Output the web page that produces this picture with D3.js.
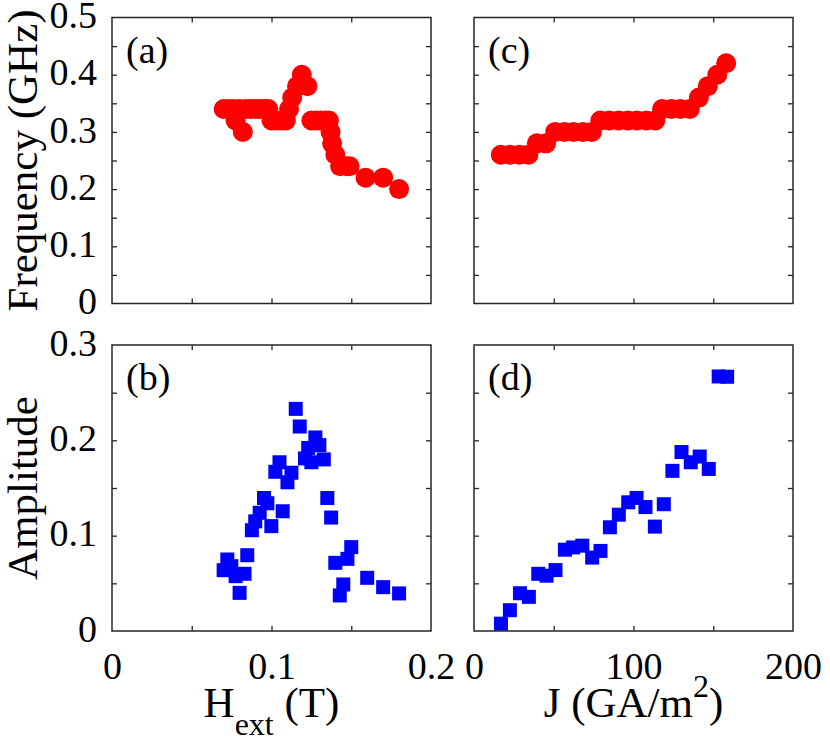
<!DOCTYPE html>
<html>
<head>
<meta charset="utf-8">
<script src="https://cdn.jsdelivr.net/npm/d3@7"></script>
<style>
  body { margin: 0; background: #fff; }
</style>
</head>
<body>
<div id="chart"></div>
<script>
// panel (a): frequency vs external field
var fieldA = [0.070, 0.073, 0.076, 0.0775, 0.082, 0.080, 0.084, 0.087, 0.090, 0.093, 0.096, 0.098,
              0.100, 0.103, 0.106, 0.109, 0.111, 0.113, 0.116, 0.119, 0.1225, 0.125, 0.128, 0.131,
              0.134, 0.136, 0.137, 0.138, 0.140, 0.143, 0.147, 0.149, 0.159, 0.170, 0.180]
var freqA = [0.34, 0.34, 0.34, 0.32, 0.30, 0.34, 0.34, 0.34, 0.34, 0.34, 0.34, 0.34,
             0.32, 0.32, 0.32, 0.32, 0.34, 0.36, 0.38, 0.40, 0.38, 0.32, 0.32, 0.32,
             0.32, 0.32, 0.30, 0.28, 0.26, 0.24, 0.24, 0.24, 0.22, 0.22, 0.20]

// panel (b): amplitude vs external field
var fieldB = [0.1152, 0.1177, 0.1275, 0.130, 0.123, 0.121, 0.125, 0.1328, 0.105, 0.1024, 0.1125, 0.110,
              0.135, 0.0953, 0.0974, 0.107, 0.0926, 0.0898, 0.0877, 0.0999, 0.1374, 0.150, 0.1476, 0.140,
              0.0848, 0.0723, 0.0748, 0.070, 0.0775, 0.0831, 0.145, 0.1428, 0.080, 0.160, 0.170, 0.180]
var ampB = [0.233, 0.2145, 0.203, 0.195, 0.192, 0.181, 0.177, 0.180, 0.177, 0.167, 0.166, 0.156,
            0.1395, 0.1395, 0.134, 0.1256, 0.124, 0.115, 0.1057, 0.110, 0.119, 0.088, 0.0757, 0.0715,
            0.0795, 0.075, 0.068, 0.0638, 0.0575, 0.060, 0.0488, 0.0373, 0.040, 0.0558, 0.046, 0.0394]

// panel (c): frequency vs current density
var currentC = [16.8, 22.6, 28.5, 34.1, 39.4, 45.2, 50.9, 56.8, 62.4, 68.3, 73.9, 79.2, 84.8,
                90.7, 96.5, 102.2, 108.1, 113.7, 117.9, 123.8, 129.4, 135.3, 141.0, 146.6, 152.5, 158.1]
var freqC = [0.26, 0.26, 0.26, 0.26, 0.28, 0.28, 0.30, 0.30, 0.30, 0.30, 0.30, 0.32, 0.32,
             0.32, 0.32, 0.32, 0.32, 0.32, 0.34, 0.34, 0.34, 0.34, 0.36, 0.38, 0.40, 0.42]

// panel (d): amplitude vs current density
var currentD = [16.9, 22.5, 28.8, 34.4, 40.3, 45.5, 51.1, 57.0, 62.2, 67.9, 74.1, 79.3, 85.2,
                90.8, 96.7, 101.9, 107.5, 113.4, 119.0, 124.4, 130.1, 135.9, 141.5, 147.2, 153.4, 158.7]
var ampD = [0.0077, 0.0218, 0.0396, 0.0358, 0.060, 0.058, 0.0639, 0.0853, 0.0877, 0.0895, 0.077, 0.084, 0.1088,
            0.122, 0.135, 0.1396, 0.130, 0.1095, 0.133, 0.168, 0.1877, 0.177, 0.183, 0.170, 0.267, 0.2667]

// tick labels
var freqTicks = [0, 0.1, 0.2, 0.3, 0.4, 0.5]
var ampTicks = [0, 0.1, 0.2, 0.3]
var fieldTicks = [0, 0.1, 0.2]
var currentTicks = [0, 100, 200]

var font = "Liberation Serif, Times New Roman, serif"
var frameColor = "#262626"

var svg = d3.select("#chart")
    .append("svg")
    .attr("width", 830)
    .attr("height", 744)
    .attr("font-family", font)

var colLeft = [112, 431], colRight = [474, 793]
var rowTop = [17.5, 303.5], rowBottom = [345, 631]

function drawPanel(id, xr, yr, xDom, yDom, xStep, yStep, xs, ys, shape, color, tag) {
    var x = d3.scaleLinear().domain(xDom).range(xr)
    var y = d3.scaleLinear().domain(yDom).range([yr[1], yr[0]])
    var g = svg.append("g").attr("id", id)

    g.append("clipPath").attr("id", "clip-" + id)
      .append("rect")
      .attr("x", xr[0]).attr("y", yr[0])
      .attr("width", xr[1] - xr[0]).attr("height", yr[1] - yr[0])

    var xt = d3.range(1, Math.round((xDom[1] - xDom[0]) / xStep)).map(i => xDom[0] + i * xStep)
    var yt = d3.range(1, Math.round((yDom[1] - yDom[0]) / yStep)).map(i => yDom[0] + i * yStep)

    // inward ticks on all four sides
    g.append("g").attr("transform", "translate(0," + yr[1] + ")")
      .call(d3.axisBottom(x).tickValues(xt).tickSize(-5).tickFormat(""))
    g.append("g").attr("transform", "translate(0," + yr[0] + ")")
      .call(d3.axisTop(x).tickValues(xt).tickSize(-5).tickFormat(""))
    g.append("g").attr("transform", "translate(" + xr[0] + ",0)")
      .call(d3.axisLeft(y).tickValues(yt).tickSize(-5).tickFormat(""))
    g.append("g").attr("transform", "translate(" + xr[1] + ",0)")
      .call(d3.axisRight(y).tickValues(yt).tickSize(-5).tickFormat(""))
    g.selectAll(".domain").remove()
    g.selectAll(".tick line").attr("stroke", frameColor).attr("stroke-width", 1.3)

    var marks = g.append("g").attr("clip-path", "url(#clip-" + id + ")")
    var pts = xs.map((v, i) => [v, ys[i]])
    if (shape == "circle") {
        marks.selectAll("circle")
          .data(pts)
          .enter()
          .append("circle")
          .attr("cx", d => x(d[0]))
          .attr("cy", d => y(d[1]))
          .attr("r", 10)
          .attr("fill", color)
    } else {
        var s = 14
        marks.selectAll("rect")
          .data(pts)
          .enter()
          .append("rect")
          .attr("x", d => x(d[0]) - s / 2)
          .attr("y", d => y(d[1]) - s / 2)
          .attr("width", s)
          .attr("height", s)
          .attr("fill", color)
    }

    g.append("rect")
      .attr("x", xr[0]).attr("y", yr[0])
      .attr("width", xr[1] - xr[0]).attr("height", yr[1] - yr[0])
      .attr("fill", "none")
      .attr("stroke", frameColor)
      .attr("stroke-width", 1.5)

    g.append("text")
      .attr("x", xr[0] + 14)
      .attr("y", yr[0] + 45)
      .attr("font-size", 38)
      .text(tag)

    return {x: x, y: y}
}

var pa = drawPanel("pa", colLeft, rowTop, [0, 0.2], [0, 0.5], 0.05, 0.05, fieldA, freqA, "circle", "#ff0000", "(a)")
var pb = drawPanel("pb", colLeft, rowBottom, [0, 0.2], [0, 0.3], 0.05, 0.05, fieldB, ampB, "square", "#0000ff", "(b)")
var pc = drawPanel("pc", colRight, rowTop, [0, 200], [0, 0.5], 50, 0.05, currentC, freqC, "circle", "#ff0000", "(c)")
var pd = drawPanel("pd", colRight, rowBottom, [0, 200], [0, 0.3], 50, 0.05, currentD, ampD, "square", "#0000ff", "(d)")

function fmt(d) { return d === 0 ? "0" : d3.format(".1f")(d) }

function labelAxis(axis, transform) {
    var g = svg.append("g").attr("transform", transform).call(axis)
    g.attr("font-family", null).attr("font-size", 38)
    g.select(".domain").remove()
    g.selectAll(".tick line").remove()
    g.selectAll("text").attr("fill", "#000")
    return g
}

labelAxis(d3.axisLeft(pa.y).tickValues(freqTicks).tickFormat(fmt).tickSize(0).tickPadding(15),
          "translate(" + colLeft[0] + ",0)")
    .selectAll("text").attr("dy", "0.27em")
labelAxis(d3.axisLeft(pb.y).tickValues(ampTicks).tickFormat(fmt).tickSize(0).tickPadding(15),
          "translate(" + colLeft[0] + ",0)")
    .selectAll("text").attr("dy", "0.27em")
labelAxis(d3.axisBottom(pb.x).tickValues(fieldTicks).tickFormat(fmt).tickSize(0).tickPadding(21),
          "translate(0," + rowBottom[1] + ")")
labelAxis(d3.axisBottom(pd.x).tickValues(currentTicks).tickFormat(d3.format("d")).tickSize(0).tickPadding(21),
          "translate(0," + rowBottom[1] + ")")

// axis titles
svg.append("text")
    .attr("transform", "translate(37," + (rowTop[0] + rowTop[1]) / 2 + ") rotate(-90)")
    .attr("text-anchor", "middle")
    .attr("font-size", 43)
    .text("Frequency (GHz)")

svg.append("text")
    .attr("transform", "translate(37," + (rowBottom[0] + rowBottom[1]) / 2 + ") rotate(-90)")
    .attr("text-anchor", "middle")
    .attr("font-size", 43)
    .text("Amplitude")

var hLabel = svg.append("text")
    .attr("x", (colLeft[0] + colLeft[1]) / 2)
    .attr("y", 717)
    .attr("text-anchor", "middle")
    .attr("font-size", 43)
hLabel.append("tspan").text("H")
hLabel.append("tspan").attr("dy", 18).attr("font-size", 32).text("ext")
hLabel.append("tspan").attr("dy", -18).text(" (T)")

var jLabel = svg.append("text")
    .attr("x", (colRight[0] + colRight[1]) / 2)
    .attr("y", 717)
    .attr("text-anchor", "middle")
    .attr("font-size", 43)
jLabel.append("tspan").text("J (GA/m")
jLabel.append("tspan").attr("dy", -20).attr("font-size", 32).text("2")
jLabel.append("tspan").attr("dy", 20).text(")")
</script>
</body>
</html>
